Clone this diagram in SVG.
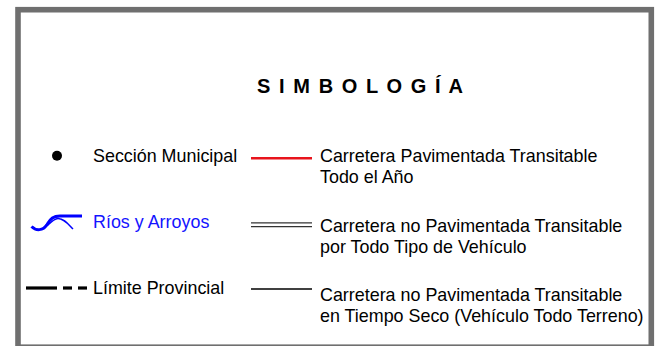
<svg xmlns="http://www.w3.org/2000/svg" width="660" height="346" viewBox="0 0 660 346">
<style>
.t{font-family:"Liberation Sans",Arial,sans-serif;font-size:17.9px;fill:#000}
.blue{fill:#1414ff}
.title{font-family:"Liberation Sans",Arial,sans-serif;font-size:20px;font-weight:bold;fill:#000}
</style>
<rect width="660" height="346" fill="#fff"/>
<rect id="frame" x="18" y="9.7" width="633.3" height="337.5" fill="none" stroke="#6f6f6f" stroke-width="5.6"/>
<text class="title" x="257" y="92.5" textLength="206" lengthAdjust="spacing">S I M B O L O G Í A</text>
<g id="seccion">
<circle cx="57" cy="155.8" r="5" fill="#000"/>
<text class="t" x="93" y="162">Sección Municipal</text>
</g>
<g id="rios">
<path d="M31.5,226.5 C36,231 43,231 47,224.5 C50.5,218.5 53.5,216 60,216 L82,216" fill="none" stroke="#0000ff" stroke-width="3"/>
<path d="M47,226 C51,222 54,218.5 58,218.5 C64,218.5 68,224 73,229" fill="none" stroke="#0000ff" stroke-width="1.5"/>
<text class="t blue" x="93" y="228">Ríos y Arroyos</text>
</g>
<g id="limite">
<line x1="26" y1="288" x2="57" y2="288" stroke="#000" stroke-width="3.2"/>
<line x1="63" y1="288" x2="72" y2="288" stroke="#000" stroke-width="3.2"/>
<line x1="78" y1="288" x2="87" y2="288" stroke="#000" stroke-width="3.2"/>
<text class="t" x="93" y="293.5">Límite Provincial</text>
</g>
<g id="pavimentada">
<line x1="251" y1="158.3" x2="312" y2="158.3" stroke="#e8141c" stroke-width="2.6"/>
<text class="t" x="320" y="162">Carretera Pavimentada Transitable</text>
<text class="t" x="320" y="183.3">Todo el Año</text>
</g>
<g id="nopavimentada">
<line x1="251" y1="222.8" x2="312" y2="222.8" stroke="#333" stroke-width="1.3"/>
<line x1="251" y1="226.6" x2="312" y2="226.6" stroke="#333" stroke-width="1.3"/>
<text class="t" x="320" y="232">Carretera no Pavimentada Transitable</text>
<text class="t" x="320" y="253">por Todo Tipo de Vehículo</text>
</g>
<g id="seco">
<line x1="251" y1="289" x2="312" y2="289" stroke="#000" stroke-width="1.4"/>
<text class="t" x="320" y="300.7">Carretera no Pavimentada Transitable</text>
<text class="t" x="320" y="321.7">en Tiempo Seco (Vehículo Todo Terreno)</text>
</g>
</svg>
